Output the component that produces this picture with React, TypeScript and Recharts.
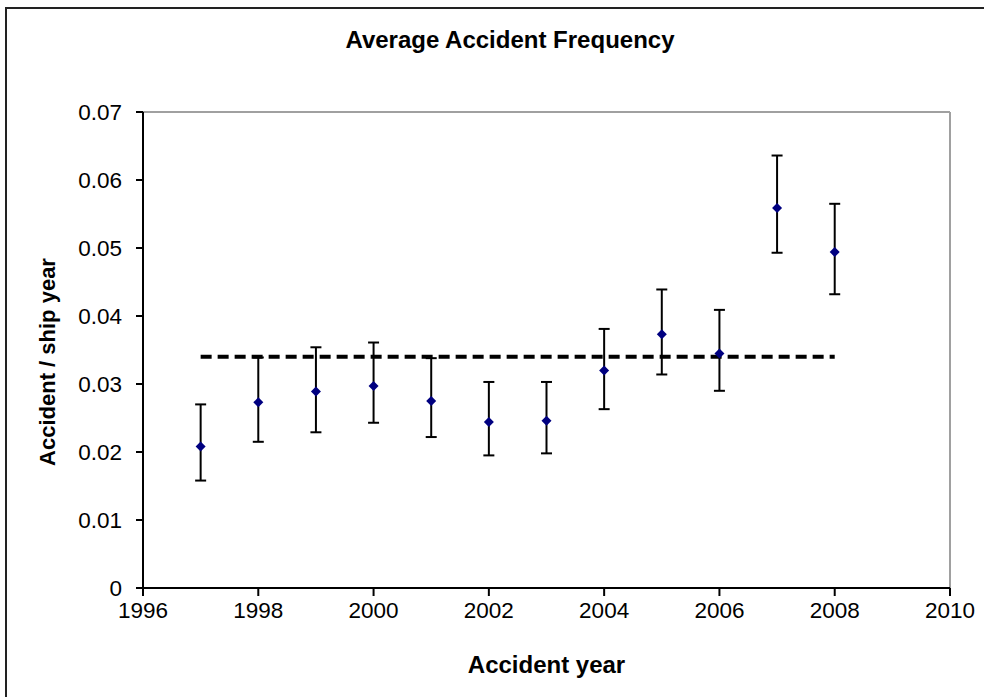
import {
    ScatterChart,
    Scatter,
    XAxis,
    YAxis,
    ErrorBar,
    ReferenceLine,
    Label,
} from "recharts";

// values
const years = [1997, 1998, 1999, 2000, 2001, 2002, 2003, 2004, 2005, 2006, 2007, 2008];
const frequency = [0.0208, 0.0273, 0.0289, 0.0297, 0.0275, 0.0244, 0.0246, 0.032, 0.0373, 0.0345, 0.0559, 0.0494];
const upperBound = [0.027, 0.0339, 0.0354, 0.0361, 0.0338, 0.0303, 0.0303, 0.0381, 0.0439, 0.0409, 0.0636, 0.0565];
const lowerBound = [0.0158, 0.0215, 0.0229, 0.0243, 0.0222, 0.0195, 0.0198, 0.0263, 0.0314, 0.029, 0.0493, 0.0432];
const averageLevel = 0.034;
const averageFrom = 1997;
const averageTo = 2008;
const xTicks = [1996, 1998, 2000, 2002, 2004, 2006, 2008, 2010];
const yTicks = [0, 0.01, 0.02, 0.03, 0.04, 0.05, 0.06, 0.07];

const font = "'Liberation Sans', Arial, sans-serif";

// error bars take distances from the point, not absolute bounds
const chartData = years.map((year, i) => ({
    year,
    freq: frequency[i],
    err: [frequency[i] - lowerBound[i], upperBound[i] - frequency[i]],
}));

const Diamond = (props: any) => {
    const { cx, cy } = props;
    const r = 5;
    return (
        <polygon
            points={`${cx},${cy - r} ${cx + r},${cy} ${cx},${cy + r} ${cx - r},${cy}`}
            fill="#000080"
        />
    );
};

export default function App() {
    return (
        <div
            style={{
                position: "absolute",
                left: 0,
                top: 0,
                width: 984,
                height: 697,
                overflow: "hidden",
                background: "#fff",
                fontFamily: font,
            }}
        >
            <div
                style={{
                    position: "absolute",
                    left: 5,
                    top: 7,
                    width: 1000,
                    height: 720,
                    border: "2px solid #222",
                }}
            />
            <div
                style={{
                    position: "absolute",
                    left: 0,
                    top: 28,
                    width: 1020,
                    textAlign: "center",
                    fontSize: 24,
                    fontWeight: "bold",
                    lineHeight: 1,
                    color: "#000",
                }}
            >
                Average Accident Frequency
            </div>
            <div style={{ position: "absolute", left: 0, top: 0 }}>
                <ScatterChart
                    width={984}
                    height={697}
                    margin={{ top: 112, right: 34, left: 63, bottom: 29 }}
                >
                    <XAxis
                        type="number"
                        dataKey="year"
                        domain={[1996, 2010]}
                        ticks={xTicks}
                        interval={0}
                        height={80}
                        stroke="#000"
                        strokeWidth={2}
                        tickSize={8}
                        tickMargin={6}
                        tick={{ fill: "#000", fontSize: 22.5, fontFamily: font }}
                    >
                        <Label
                            content={({ viewBox }: any) => (
                                <text
                                    x={viewBox.x + viewBox.width / 2}
                                    y={viewBox.y + 85}
                                    textAnchor="middle"
                                    fontSize={24}
                                    fontWeight="bold"
                                    fontFamily={font}
                                    fill="#000"
                                >
                                    Accident year
                                </text>
                            )}
                        />
                    </XAxis>
                    <YAxis
                        type="number"
                        dataKey="freq"
                        domain={[0, 0.07]}
                        ticks={yTicks}
                        interval={0}
                        width={80}
                        stroke="#000"
                        strokeWidth={2}
                        tickSize={7}
                        tickMargin={14}
                        tickFormatter={(v: number) => (v === 0 ? "0" : v.toFixed(2))}
                        tick={{ fill: "#000", fontSize: 22.5, fontFamily: font }}
                    >
                        <Label
                            content={({ viewBox }: any) => {
                                const x = viewBox.x - 16;
                                const y = viewBox.y + viewBox.height / 2 + 12;
                                return (
                                    <text
                                        x={x}
                                        y={y}
                                        transform={`rotate(-90, ${x}, ${y})`}
                                        textAnchor="middle"
                                        dominantBaseline="central"
                                        fontSize={22}
                                        fontWeight="bold"
                                        fontFamily={font}
                                        fill="#000"
                                    >
                                        Accident / ship year
                                    </text>
                                );
                            }}
                        />
                    </YAxis>
                    <ReferenceLine y={0.07} stroke="#a0a0a0" strokeWidth={2} />
                    <ReferenceLine x={2010} stroke="#a0a0a0" strokeWidth={2} />
                    <ReferenceLine
                        segment={[
                            { x: averageFrom, y: averageLevel },
                            { x: averageTo, y: averageLevel },
                        ]}
                        stroke="#000"
                        strokeWidth={4}
                        strokeDasharray="11 6"
                    />
                    <Scatter data={chartData} shape={<Diamond />} isAnimationActive={false}>
                        <ErrorBar
                            dataKey="err"
                            direction="y"
                            width={5.5}
                            stroke="#000"
                            strokeWidth={2}
                        />
                    </Scatter>
                </ScatterChart>
            </div>
        </div>
    );
}
